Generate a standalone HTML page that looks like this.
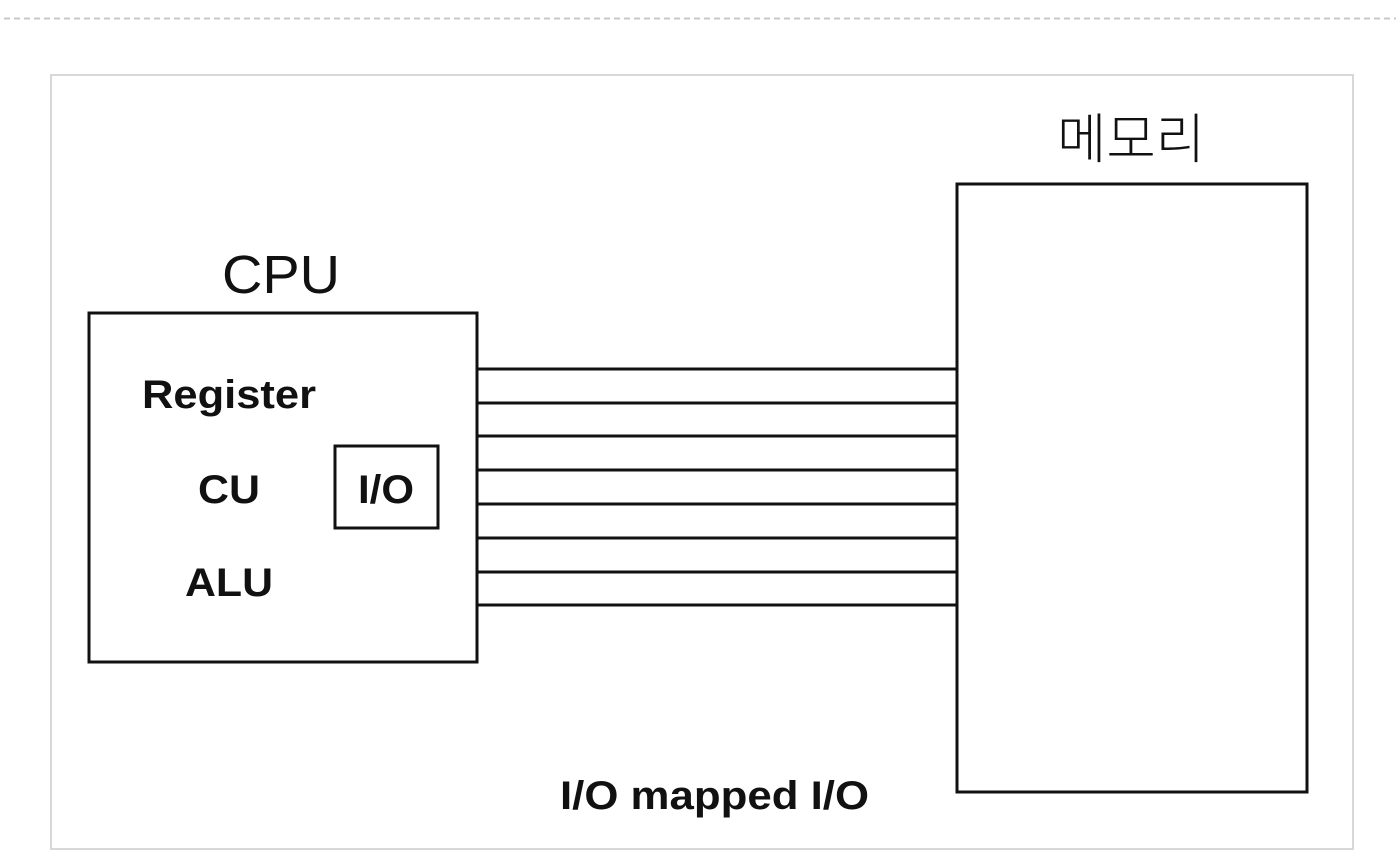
<!DOCTYPE html>
<html><head><meta charset="utf-8"><style>
html,body{margin:0;padding:0;background:#fff;width:1396px;height:868px;overflow:hidden}
</style></head><body>
<svg width="1396" height="868" xmlns="http://www.w3.org/2000/svg">
<line x1="4" y1="18.5" x2="1396" y2="18.5" stroke="#c8c8c8" stroke-width="2" stroke-dasharray="6,4"/>
<rect x="51" y="75" width="1302" height="774" fill="none" stroke="#d8d8d8" stroke-width="2"/>
<rect x="89" y="313" width="388" height="349" fill="none" stroke="#111" stroke-width="3"/>
<rect x="335" y="446" width="103" height="82" fill="none" stroke="#111" stroke-width="3"/>
<rect x="957" y="184" width="350" height="608" fill="none" stroke="#111" stroke-width="3"/>
<g stroke="#111" stroke-width="3">
<line x1="477" y1="369" x2="957" y2="369"/>
<line x1="477" y1="403" x2="957" y2="403"/>
<line x1="477" y1="436" x2="957" y2="436"/>
<line x1="477" y1="470" x2="957" y2="470"/>
<line x1="477" y1="504" x2="957" y2="504"/>
<line x1="477" y1="538" x2="957" y2="538"/>
<line x1="477" y1="572" x2="957" y2="572"/>
<line x1="477" y1="605" x2="957" y2="605"/>
</g>
<g font-family="Liberation Sans, sans-serif" fill="#111" lengthAdjust="spacingAndGlyphs">
<text x="222" y="293" font-size="54" textLength="118" lengthAdjust="spacingAndGlyphs" font-weight="300">CPU</text>
<text x="1057" y="158" font-size="54" textLength="148" lengthAdjust="spacingAndGlyphs" font-family="Liberation Sans, Noto Sans CJK KR, sans-serif" font-weight="300">메모리</text>
<text x="142" y="408" font-size="40" font-weight="bold" textLength="174" lengthAdjust="spacingAndGlyphs">Register</text>
<text x="198" y="503" font-size="40" font-weight="bold" textLength="62" lengthAdjust="spacingAndGlyphs">CU</text>
<text x="185" y="596" font-size="40" font-weight="bold" textLength="88" lengthAdjust="spacingAndGlyphs">ALU</text>
<text x="358" y="503" font-size="40" font-weight="bold" textLength="56" lengthAdjust="spacingAndGlyphs">I/O</text>
<text x="560" y="809" font-size="40" font-weight="bold" textLength="309" lengthAdjust="spacingAndGlyphs">I/O mapped I/O</text>
</g>
</svg>
</body></html>
